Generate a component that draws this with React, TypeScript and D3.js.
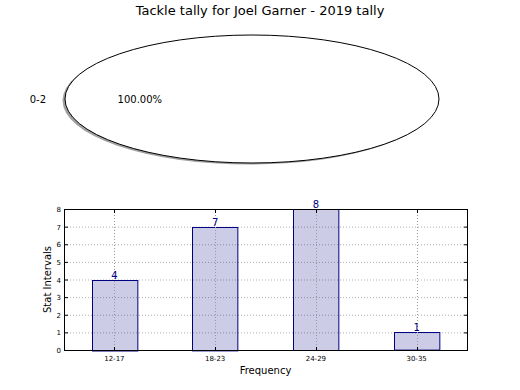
import React, { useRef, useEffect } from 'react';
import * as d3 from 'd3';

const pieLabels = ['0-2'];
const pieValues = [1];
const categories = ['12-17', '18-23', '24-29', '30-35'];
const counts = [4, 7, 8, 1];
const yTicks = [0, 1, 2, 3, 4, 5, 6, 7, 8];

export default function App() {
  const svgRef = useRef<SVGSVGElement>(null);

  useEffect(() => {
    const w = 520;
    const h = 390;
    const font = 'DejaVu Sans, sans-serif';
    const svg = d3.select(svgRef.current)
      .attr('width', w)
      .attr('height', h)
      .style('background', '#fff')
      .style('font-family', font);
    svg.selectAll('*').remove();

    // title
    svg.append('text')
      .attr('x', 260).attr('y', 15)
      .attr('text-anchor', 'middle')
      .style('font-size', '13px')
      .text('Tackle tally for Joel Garner - 2019 tally');

    // pie (single slice -> ellipse)
    const cx = 252, cy = 99, rx = 187, ry = 64;
    const pie = d3.pie<number>().sort(null).startAngle(Math.PI / 2).endAngle(Math.PI * 2.5)(pieValues);
    const arc = d3.arc<d3.PieArcDatum<number>>().innerRadius(0).outerRadius(1);
    const g = svg.append('g');
    g.append('g')
      .attr('transform', `translate(${cx - 2.5},${cy + 1.5}) scale(${rx},${ry})`)
      .selectAll('path').data(pie).join('path')
      .attr('d', arc as any)
      .attr('fill', '#888')
      .attr('opacity', 0.8);
    g.append('g')
      .attr('transform', `translate(${cx},${cy}) scale(${rx},${ry})`)
      .selectAll('path').data(pie).join('path')
      .attr('d', arc as any)
      .attr('fill', '#fff')
      .attr('stroke', '#000')
      .attr('stroke-width', 1)
      .attr('vector-effect', 'non-scaling-stroke');
    pie.forEach((d, i) => {
      // d3 angles are clockwise from 12 o'clock; the wedge middle lies at 9 o'clock
      const mid = (d.startAngle + d.endAngle) / 2;
      const ux = Math.sin(mid);
      const uy = -Math.cos(mid);
      svg.append('text')
        .attr('x', cx + ux * rx * 1.145)
        .attr('y', cy + uy * ry * 1.1 + 4)
        .attr('text-anchor', 'middle')
        .style('font-size', '10px')
        .text(pieLabels[i]);
      svg.append('text')
        .attr('x', cx + ux * rx * 0.6)
        .attr('y', cy + uy * ry * 0.6 + 4)
        .attr('text-anchor', 'middle')
        .style('font-size', '10px')
        .text(((d.value / d3.sum(pieValues)) * 100).toFixed(2) + '%');
    });

    // bar chart
    const left = 64, right = 467, top = 209, bottom = 350;
    const x = d3.scaleLinear().domain([-0.5, categories.length - 0.5]).range([left, right]);
    const y = d3.scaleLinear().domain([0, 8]).range([bottom, top]);
    const bw = 0.45;

    const grid = svg.append('g')
      .attr('stroke', '#b0b0b0')
      .attr('stroke-dasharray', '1,2')
      .attr('stroke-width', 1);
    yTicks.forEach(t => {
      grid.append('line').attr('x1', left).attr('x2', right)
        .attr('y1', y(t) + 0.5).attr('y2', y(t) + 0.5);
    });

    svg.append('g').selectAll('rect').data(counts).join('rect')
      .attr('x', (d, i) => Math.round(x(i - bw / 2)) + 0.5)
      .attr('y', d => Math.round(y(d)) + 0.5)
      .attr('width', x(bw) - x(0))
      .attr('height', d => y(0) - y(d))
      .attr('fill', 'rgba(0,0,128,0.2)')
      .attr('stroke', '#000080')
      .attr('stroke-width', 1);

    // vertical grid drawn over bars
    categories.forEach((c, i) => {
      svg.append('line').attr('x1', Math.round(x(i)) + 0.5).attr('x2', Math.round(x(i)) + 0.5)
        .attr('y1', top).attr('y2', bottom)
        .attr('stroke', '#999').attr('stroke-dasharray', '1,2');
    });

    svg.append('g').selectAll('text').data(counts).join('text')
      .attr('x', (d, i) => x(i))
      .attr('y', d => y(d) - 1)
      .attr('text-anchor', 'middle')
      .attr('fill', '#000080')
      .style('font-size', '10px')
      .text(d => d);

    // frame
    svg.append('rect')
      .attr('x', left + 0.5).attr('y', top + 0.5)
      .attr('width', right - left).attr('height', bottom - top)
      .attr('fill', 'none').attr('stroke', '#000').attr('stroke-width', 1);

    // ticks inside
    const ticks = svg.append('g').attr('stroke', '#000');
    yTicks.forEach(t => {
      ticks.append('line').attr('x1', left).attr('x2', left + 4).attr('y1', y(t) + 0.5).attr('y2', y(t) + 0.5);
      ticks.append('line').attr('x1', right - 3).attr('x2', right + 1).attr('y1', y(t) + 0.5).attr('y2', y(t) + 0.5);
    });
    categories.forEach((c, i) => {
      const xx = Math.round(x(i)) + 0.5;
      ticks.append('line').attr('x1', xx).attr('x2', xx).attr('y1', bottom - 3).attr('y2', bottom + 1);
      ticks.append('line').attr('x1', xx).attr('x2', xx).attr('y1', top).attr('y2', top + 4);
    });

    svg.append('g').selectAll('text').data(yTicks).join('text')
      .attr('x', left - 3)
      .attr('y', d => y(d) + 3)
      .attr('text-anchor', 'end')
      .style('font-size', '7px')
      .text(d => d);

    svg.append('g').selectAll('text').data(categories).join('text')
      .attr('x', (d, i) => x(i))
      .attr('y', bottom + 11)
      .attr('text-anchor', 'middle')
      .style('font-size', '7px')
      .text(d => d);

    svg.append('text')
      .attr('x', (left + right) / 2).attr('y', 374)
      .attr('text-anchor', 'middle')
      .style('font-size', '10px')
      .text('Frequency');

    svg.append('text')
      .attr('transform', `translate(51,${(top + bottom) / 2}) rotate(-90)`)
      .attr('text-anchor', 'middle')
      .style('font-size', '10px')
      .text('Stat Intervals');
  }, []);

  return (
    <div style={{ position: 'absolute', left: 0, top: 0 }}>
      <svg ref={svgRef}></svg>
    </div>
  );
}
